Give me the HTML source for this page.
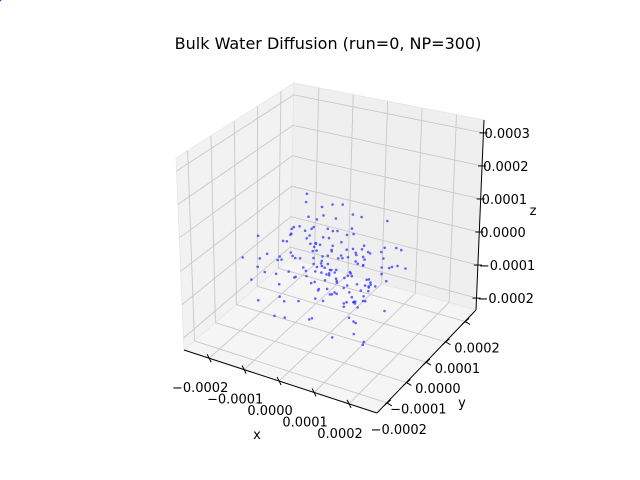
<!DOCTYPE html>
<html><head><meta charset="utf-8"><style>
html,body{margin:0;padding:0;background:#fff;}
svg{display:block;font-family:"DejaVu Sans","Liberation Sans",sans-serif;}
</style></head><body>
<svg id="chart" width="640" height="480" viewBox="0 0 640 480" xmlns="http://www.w3.org/2000/svg">
<rect width="640" height="480" fill="#fff"/>
<text x="328" y="49" text-anchor="middle" font-size="16">Bulk Water Diffusion (run=0, NP=300)</text>
<g id="panes"></g>
<g id="grid"></g>
<g id="axes"></g>
<g id="pts"></g>
<text x="257" y="439" text-anchor="middle" font-size="13">x</text>
<text x="462" y="407" text-anchor="middle" font-size="13">y</text>
<text x="533" y="215" text-anchor="middle" font-size="13">z</text>
</svg>
<script>
// data (units of 1e-5)
const xsData=[-3,5,-8,2,10,-12,7,-1,4,-6,13,-15,1,9,-4,6,-10,3,-2,8,-7,11,-5,0,14,-9,2,-13,6,-3,17,-18,5,-1,8,-11,3,12,-6,-2,9,-14,4,0,-8,7,10,-4,1,-16,6,-9,15,-2,3,-7,11,-12,2,8,-5,-19,13,0,-3,5,-10,9,-6,4,16,-1,7,-13,2,-8,10,-4,6,-11,3,12,-2,-15,1,8,-6,14,-9,5,-3,0,11,-7,4,-17,9,-1,6,-10,2,13,-5,7,-12,3,-4,18,-8,1,10,-2,5,-14,8,-6,0,12,
-5,3,9,-11,6,-2,14,-8,1,-13,7,4,-6,11,-3,0,-9,5,16,-15,2,-4,8,-7,12,-1,6,-10,3,-12,10,-6,1,15,-3,-8,5,-14,9,-2,7,-11,0,13,-5,4,-9,2,-16,8,-1,11,-7,3,-4,6,-12,9,-3,1];
const ysData=[4,-6,9,-2,3,-11,7,12,-8,1,-4,6,-13,10,-3,5,0,-9,14,-1,8,-5,2,-15,11,-7,16,3,-10,6,-2,9,-12,4,13,-6,1,-8,10,-3,17,-11,5,-1,7,-14,2,12,-5,8,-9,3,-16,6,-4,11,-7,1,15,-2,9,-6,4,-10,13,0,-13,7,-1,10,-8,5,-3,12,-11,2,8,-15,6,-4,14,-7,1,-9,11,-2,3,-12,7,-5,16,-1,9,-8,4,-13,10,-3,6,-10,2,15,-6,8,-4,11,0,-14,5,-9,12,-2,7,-11,3,-7,
8,-3,5,-12,1,14,-7,3,-10,6,-1,11,-5,2,-14,9,-2,7,-8,4,-11,13,0,-6,3,-13,10,-4,5,-9,1,12,-7,6,-2,-15,8,-1,4,-10,2,14,-5,7,-3,11,-8,0,6,-12,9,-4,3,-6,15,-1,5,-9,2,-7];
const zsData=[-6,-1,-10,4,-8,-3,-13,1,-5,-11,-2,-7,2,-9,6,-12,-4,0,-15,3,-7,-10,8,-6,-1,-13,-8,1,-5,11,-11,-6,4,-14,-3,-9,15,-7,-12,2,-5,-2,-16,0,-10,5,-8,-4,-11,-1,-18,3,-6,7,-9,-3,-13,2,-7,9,-5,-10,0,-14,-2,-8,4,-11,17,-6,1,-15,-3,-7,5,-10,-1,-12,-5,3,-17,-2,-9,6,-6,-11,0,-13,2,-4,-8,8,-10,-3,-14,1,-7,4,-5,-16,-1,-9,10,-11,-2,-6,2,-13,-4,7,-8,-10,-1,-12,3,-5,
-3,-9,1,-6,-12,4,-2,-8,6,-14,-4,2,-10,-1,-7,8,-5,-11,0,-3,-16,5,-8,-2,-12,3,-6,-9,10,-4,-1,-13,1,-7,-5,6,-10,-3,-15,0,-8,4,-11,-2,13,-6,-4,-9,2,-12,-1,-7,5,-14,-3,0,-10,7,-5,-8];
const xTicks=[-0.0002,-0.0001,0,0.0001,0.0002];
const yTicks=[-0.0002,-0.0001,0,0.0001,0.0002];
const zTicks=[-0.0002,-0.0001,0,0.0001,0.0002,0.0003];
const xTickLabels=["\u22120.0002","\u22120.0001","0.0000","0.0001","0.0002"];
const yTickLabels=["\u22120.0002","\u22120.0001","0.0000","0.0001","0.0002"];
const zTickLabels=["\u22120.0002","\u22120.0001","0.0000","0.0001","0.0002","0.0003"];

const SC=1e-5;
const XL=[-0.000272,0.00028], YL=[-0.00025,0.000256], ZL=[-0.000236,0.000339];
const C={"000":[184,350],"100":[377,413],"110":[476,310],"010":[290,258],
         "001":[176,158],"101":[375,200],"111":[484,120],"011":[294,83]};
function proj(x,y,z){
  const u=(x-XL[0])/(XL[1]-XL[0]), v=(y-YL[0])/(YL[1]-YL[0]), w=(z-ZL[0])/(ZL[1]-ZL[0]);
  let px=0,py=0;
  for(const i of [0,1])for(const j of [0,1])for(const k of [0,1]){
    const wt=(i?u:1-u)*(j?v:1-v)*(k?w:1-w);
    const c=C[""+i+j+k]; px+=wt*c[0]; py+=wt*c[1];
  }
  return [px,py];
}
const NS="http://www.w3.org/2000/svg";
function mk(tag,parent,attrs){const e=document.createElementNS(NS,tag);for(const k in attrs)e.setAttribute(k,attrs[k]);parent.appendChild(e);return e;}
function line(parent,a,b,stroke,w){return mk('line',parent,{x1:a[0],y1:a[1],x2:b[0],y2:b[1],stroke:stroke,'stroke-width':w});}
const panes=document.getElementById('panes'),grid=document.getElementById('grid'),axes=document.getElementById('axes'),pts=document.getElementById('pts');
function poly(list,name,fill){const p=mk('polygon',panes,{points:list.map(k=>C[k].join(',')).join(' '),fill:fill,stroke:'#e6e6e6','stroke-width':0.8});

}
poly(["000","010","011","001"],'x-pane','#f2f2f2');
poly(["010","110","111","011"],'y-pane','#efefef');
poly(["000","100","110","010"],'floor-pane','#f5f5f5');
const G='#c8c8c8';
yTicks.forEach(t=>{
  let l=line(grid,proj(XL[0],t,ZL[0]),proj(XL[0],t,ZL[1]),G,0.9);
  
  
  l=line(grid,proj(XL[0],t,ZL[0]),proj(XL[1],t,ZL[0]),G,0.9);
  
  
});
xTicks.forEach(t=>{
  let l=line(grid,proj(t,YL[1],ZL[0]),proj(t,YL[1],ZL[1]),G,0.9);
  
  
  l=line(grid,proj(t,YL[0],ZL[0]),proj(t,YL[1],ZL[0]),G,0.9);
  
  
});
zTicks.forEach(t=>{
  let l=mk('polyline',grid,{points:[proj(XL[0],YL[0],t),proj(XL[0],YL[1],t),proj(XL[1],YL[1],t)].map(p=>p.join(',')).join(' '),fill:'none',stroke:G,'stroke-width':0.9});
  
  
});
let a=line(axes,C["000"],C["100"],'#000',1);
a=line(axes,C["100"],C["110"],'#000',1);
a=line(axes,C["110"],C["111"],'#000',1);
xTicks.forEach((t,i)=>{
  const p=proj(t,YL[0],ZL[0]);
  line(axes,[p[0]-2,p[1]-4],[p[0]+2,p[1]+4],'#000',1);
  const tx=mk('text',axes,{x:p[0]-9,y:p[1]+34,'text-anchor':'middle','font-size':13});
  tx.textContent=xTickLabels[i];
  
  
});
yTicks.forEach((t,i)=>{
  const p=proj(XL[1],t,ZL[0]);
  line(axes,[p[0]-3,p[1]+3],[p[0]+4,p[1]-3],'#000',1);
  line(axes,[p[0],p[1]],[p[0]+5,p[1]+3],'#000',1);
  const tx=mk('text',axes,{x:p[0]+12,y:p[1]+31,'text-anchor':'middle','font-size':13});
  tx.textContent=yTickLabels[i];
  
  
});
zTicks.forEach((t,i)=>{
  const p=proj(XL[1],YL[1],t);
  line(axes,[p[0]-4,p[1]],[p[0]+4,p[1]],'#000',1);
  const tx=mk('text',axes,{x:p[0]+1,y:p[1]+5,'text-anchor':'start','font-size':13});
  tx.textContent=zTickLabels[i];
  
  
});
for(let i=0;i<xsData.length;i++){
  const p=proj(xsData[i]*SC,ysData[i]*SC,zsData[i]*SC);
  const c=mk('circle',pts,{cx:p[0].toFixed(1),cy:p[1].toFixed(1),r:1.3,fill:'#3030ff','fill-opacity':0.75});
  
  
}
</script>
</body></html>
